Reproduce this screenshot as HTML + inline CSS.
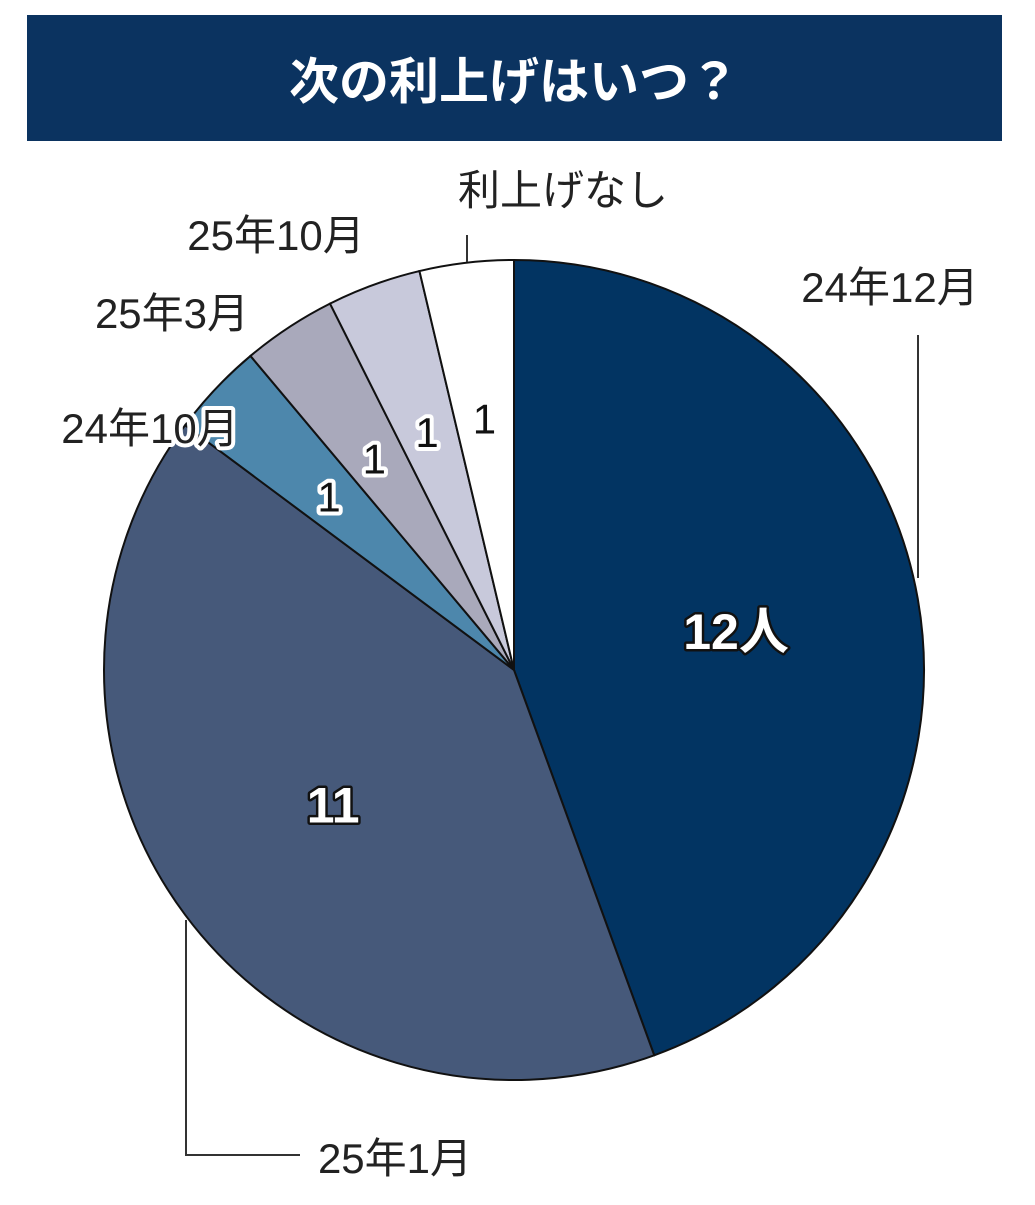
<!DOCTYPE html>
<html><head><meta charset="utf-8">
<style>
html,body{margin:0;padding:0;background:#fff;}
body{width:1035px;height:1200px;overflow:hidden;font-family:"Liberation Sans","Noto Sans CJK JP",sans-serif;}
</style></head>
<body>
<svg width="1035" height="1200" viewBox="0 0 1035 1200">
<rect x="27" y="15" width="975" height="126" fill="#0b3360"/>
<text x="514" y="99" fill="#fff" font-size="50" font-weight="bold" text-anchor="middle" font-family="'Liberation Sans','Noto Sans CJK JP',sans-serif">次の利上げはいつ？</text>
<g id="slices"></g>
<g id="labels" font-family="'Liberation Sans','Noto Sans CJK JP',sans-serif"></g>
</svg>
<script>
const categories = ["24年12月","25年1月","24年10月","25年3月","25年10月","利上げなし"];
const values = [12, 11, 1, 1, 1, 1];
const valueLabels = ["12人","11","1","1","1","1"];
const colors = ["#023462","#46597a","#4d87ac","#a9a9bb","#c8c9db","#ffffff"];
const cx=514, cy=670, r=410;
const NS="http://www.w3.org/2000/svg";
const total = values.reduce((a,b)=>a+b,0);
function pt(a,rr){return [cx+rr*Math.sin(a), cy-rr*Math.cos(a)];}
const sg=document.getElementById('slices');
const lg=document.getElementById('labels');
let acc=0;
const mids=[];
values.forEach((v,i)=>{
  const a0=acc/total*2*Math.PI; acc+=v; const a1=acc/total*2*Math.PI;
  const p0=pt(a0,r), p1=pt(a1,r);
  const large=(a1-a0)>Math.PI?1:0;
  const p=document.createElementNS(NS,'path');
  p.setAttribute('d',`M${cx},${cy}L${p0[0]},${p0[1]}A${r},${r} 0 ${large} 1 ${p1[0]},${p1[1]}Z`);
  p.setAttribute('fill',colors[i]);
  p.setAttribute('stroke','#111');
  p.setAttribute('stroke-width','2');
  
  
  sg.appendChild(p);
  mids.push((a0+a1)/2);
});
// value labels
values.forEach((v,i)=>{
  const big=i<2;
  const rr= big? r*0.55 : r*0.62;
  const q=pt(mids[i],rr);
  const t=document.createElementNS(NS,'text');
  t.setAttribute('x',q[0]); t.setAttribute('y',q[1]+ (big?18:16));
  t.setAttribute('text-anchor','middle');
  t.setAttribute('font-size', big?'50':'42');
  t.setAttribute('font-weight', big?'bold':'normal');
  t.setAttribute('fill', big?'#fff':'#111');
  t.setAttribute('stroke', big?'#111':'#fff');
  t.setAttribute('stroke-width', big?'5':'8');
  t.setAttribute('stroke-linejoin','round');
  t.setAttribute('paint-order','stroke');
  
  
  t.textContent=valueLabels[i];
  lg.appendChild(t);
});
// category labels (positions fixed layout)
const catPos=[[890,302,'middle'],[395,1173,'middle'],[150,443,'middle'],[172,328,'middle'],[276,250,'middle'],[563,205,'middle']];
categories.forEach((c,i)=>{
  const t=document.createElementNS(NS,'text');
  t.setAttribute('x',catPos[i][0]); t.setAttribute('y',catPos[i][1]);
  t.setAttribute('text-anchor',catPos[i][2]);
  t.setAttribute('font-size','42');
  t.setAttribute('fill','#222');
  t.setAttribute('stroke','#fff'); t.setAttribute('stroke-width','8');
  t.setAttribute('paint-order','stroke'); t.setAttribute('stroke-linejoin','round');
  
  
  t.textContent=c;
  lg.appendChild(t);
});
// leader lines
const lines=[["M918,335L918,578","leader-24-12"],["M186,920L186,1155L300,1155","leader-25-1"],["M467,235L467,262","leader-none"]];
lines.forEach(l=>{
  const p=document.createElementNS(NS,'path');
  p.setAttribute('d',l[0]); p.setAttribute('fill','none');
  p.setAttribute('stroke','#333'); p.setAttribute('stroke-width','2');
  
  
  lg.appendChild(p);
});
</script>
</body></html>
